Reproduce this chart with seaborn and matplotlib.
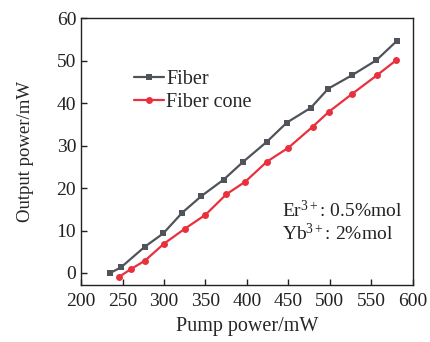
import matplotlib
matplotlib.use("Agg")
import matplotlib.pyplot as plt
import seaborn as sns
import pandas as pd

fiber_x = [235, 248, 277, 299, 322, 345, 372, 395, 424, 448, 477, 498, 527, 556, 581]
fiber_y = [0.0, 1.3, 6.2, 9.3, 14.2, 18.1, 22.0, 26.1, 30.9, 35.4, 38.9, 43.4, 46.6, 50.1, 54.7]
cone_x = [246, 260, 277, 300, 325, 350, 375, 398, 424, 450, 479, 499, 527, 557, 580]
cone_y = [-0.9, 0.9, 2.9, 6.9, 10.4, 13.7, 18.5, 21.5, 26.2, 29.5, 34.4, 38.0, 42.2, 46.6, 50.1]
series_names = ["Fiber", "Fiber cone"]
x_ticks = [200, 250, 300, 350, 400, 450, 500, 550, 600]
y_ticks = [0, 10, 20, 30, 40, 50, 60]

sns.set_style("ticks")
plt.rcParams["font.family"] = ["Liberation Serif", "DejaVu Serif"]
plt.rcParams["mathtext.fontset"] = "custom"
plt.rcParams["mathtext.rm"] = "Liberation Serif"
plt.rcParams["mathtext.it"] = "Liberation Serif:italic"

df_f = pd.DataFrame({"x": fiber_x, "y": fiber_y})
df_c = pd.DataFrame({"x": cone_x, "y": cone_y})

fig = plt.figure(figsize=(4.31, 3.42), dpi=100)
ax = fig.add_axes([0.188, 0.167, 0.770, 0.780])

sns.lineplot(data=df_f, x="x", y="y", ax=ax, color="#4f545a", marker="s",
             markersize=5, markeredgewidth=0, linewidth=1.6, label=series_names[0])
sns.lineplot(data=df_c, x="x", y="y", ax=ax, color="#e8303e", marker="o",
             markersize=5, markeredgewidth=0, linewidth=1.6, label=series_names[1])

ax.set_xlim(200, 600)
ax.set_ylim(-2.8, 60)
ax.set_xticks(x_ticks)
ax.set_yticks(y_ticks)
ax.tick_params(direction="in", length=4, width=1, labelsize=14, colors="#222222")
ax.tick_params(axis="x", pad=6)
for s in ax.spines.values():
    s.set_linewidth(1.0)
    s.set_color("#222222")

ax.set_xlabel("Pump power/mW", fontsize=14.5, labelpad=5)
ax.set_ylabel("Output power/mW", fontsize=13.5, labelpad=16)

leg = ax.legend(loc="upper left", bbox_to_anchor=(0.135, 0.835), frameon=False,
                fontsize=14.5, handlelength=1.5, handletextpad=0.1,
                labelspacing=0.2, borderaxespad=0)

ax.text(0.607, 0.236, "Er$^{\\mathrm{3+}}$: 0.5%mol\nYb$^{\\mathrm{3+}}$: 2%mol",
        transform=ax.transAxes, fontsize=14, va="center", ha="left",
        linespacing=1.15, color="#222222")

fig.savefig("out.png", dpi=100)
